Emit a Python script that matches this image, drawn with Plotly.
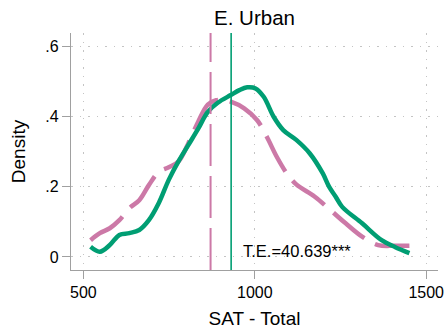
import plotly.graph_objects as go

# --- data ---
sat_green = [521, 548, 577, 605, 634, 663, 691, 720, 749, 777, 806, 835, 863, 892, 930, 955,
             978, 1002, 1026, 1055, 1083, 1121, 1160, 1198, 1217, 1236, 1255, 1313, 1370, 1410, 1451]
dens_green = [0.029, 0.015, 0.034, 0.063, 0.068, 0.077, 0.105, 0.154, 0.220, 0.272, 0.319, 0.366,
              0.414, 0.440, 0.462, 0.476, 0.484, 0.481, 0.457, 0.400, 0.362, 0.334, 0.296, 0.239,
              0.200, 0.172, 0.143, 0.096, 0.048, 0.028, 0.011]

sat_pink = [521, 548, 577, 605, 634, 663, 691, 720, 749, 777, 806, 835, 863, 887, 910, 930,
            969, 1007, 1035, 1064, 1093, 1121, 1175, 1217, 1265, 1313, 1360, 1408, 1451]
dens_pink = [0.048, 0.068, 0.082, 0.105, 0.139, 0.162, 0.205, 0.243, 0.256, 0.272, 0.324, 0.386,
             0.435, 0.447, 0.447, 0.443, 0.424, 0.390, 0.343, 0.286, 0.239, 0.207, 0.172, 0.137,
             0.096, 0.058, 0.034, 0.032, 0.032]

mean_pink = 871
mean_green = 931

x_ticks = [500, 1000, 1500]
y_ticks = [0, 0.2, 0.4, 0.6]
y_tick_labels = ["0", ".2", ".4", ".6"]

title_text = "E. Urban"
x_title = "SAT - Total"
y_title = "Density"
note_text = "T.E.=40.639***"
note_x = 961
note_y = 0.017

PINK = "#CC79A7"
GREEN = "#009E73"
AXIS = "#a0a0a0"
GRID = "#c4c4c4"
FONT = "Liberation Sans, Arial, Helvetica, sans-serif"

fig = go.Figure()
fig.add_trace(go.Scatter(x=sat_pink, y=dens_pink, mode="lines",
                         line=dict(color=PINK, width=4.5, dash="40px,12px", shape="spline", smoothing=1),
                         showlegend=False, hoverinfo="skip"))
fig.add_trace(go.Scatter(x=sat_green, y=dens_green, mode="lines",
                         line=dict(color=GREEN, width=4.5, shape="spline", smoothing=1),
                         showlegend=False, hoverinfo="skip"))

fig.add_shape(type="line", xref="x", yref="paper", x0=mean_pink, x1=mean_pink, y0=0, y1=1,
              line=dict(color=PINK, width=2, dash="42px,10px"), layer="above")
fig.add_shape(type="line", xref="x", yref="paper", x0=mean_green, x1=mean_green, y0=0, y1=1,
              line=dict(color=GREEN, width=1.6), layer="above")

fig.add_annotation(x=note_x, y=note_y, xref="x", yref="y", text=note_text, showarrow=False,
                   xanchor="left", yanchor="middle", font=dict(size=16.5, color="black", family=FONT))

fig.update_layout(
    width=444, height=330,
    margin=dict(l=71, r=0, t=33, b=60),
    paper_bgcolor="white", plot_bgcolor="white",
    font=dict(family=FONT, color="black"),
    title=dict(text=title_text, x=0.5, xref="paper", xanchor="center",
               y=1 - 18 / 330, yref="container", yanchor="middle",
               font=dict(size=20.5, color="black", family=FONT)),
    xaxis=dict(range=[463.9, 1534.4], tickvals=x_ticks, ticks="outside", ticklen=8,
               tickcolor=AXIS, tickwidth=1.2, showline=True, linecolor=AXIS, linewidth=1.3,
               showgrid=True, gridcolor=GRID, griddash="1.5px,7px", gridwidth=1.3,
               zeroline=False, tickfont=dict(size=16, color="black"),
               ticklabeloverflow="allow",
               title=dict(text=x_title, font=dict(size=19, color="black"), standoff=11)),
    yaxis=dict(range=[-0.0371, 0.639], tickvals=y_ticks, ticktext=y_tick_labels,
               ticks="outside", ticklen=8, tickcolor=AXIS, tickwidth=1.2,
               showline=True, linecolor=AXIS, linewidth=1.3,
               showgrid=True, gridcolor=GRID, griddash="1.5px,7px", gridwidth=1.3,
               zeroline=False, tickfont=dict(size=16, color="black"),
               title=dict(text=y_title, font=dict(size=19, color="black"), standoff=14)),
)

fig.write_html("out.html")
